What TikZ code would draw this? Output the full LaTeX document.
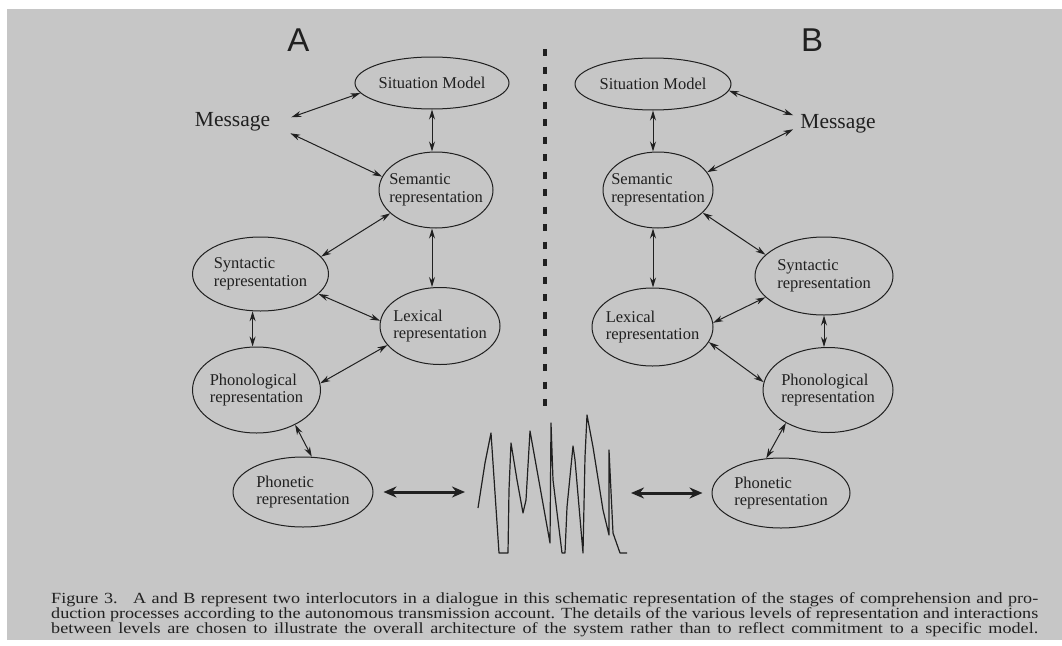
\documentclass[tikz,border=0pt]{standalone}
\usepackage{fontspec}
\setmainfont{Liberation Serif}
\newfontfamily\labelfont{Liberation Sans}
\newfontfamily\captionfont[FakeStretch=1.17]{Liberation Serif}
\usetikzlibrary{shapes.geometric,arrows.meta,positioning}
\definecolor{paper}{HTML}{C6C6C6}
\definecolor{ink}{HTML}{202020}

\begin{document}
\begin{tikzpicture}[
        x=1pt, y=-1pt,
        stage/.style={ellipse, draw=ink, line width=1pt, inner sep=-15pt, align=left, text=ink, font=\fontsize{16.5}{17.5}\selectfont},
        msg/.style={inner sep=0pt, anchor=base, text=ink, font=\fontsize{21.5}{24}\selectfont},
        who/.style={inner sep=0pt, text=ink, font=\labelfont\fontsize{33}{33}\selectfont},
        arrow/.style={draw=ink, line width=1pt, <->, >={Stealth[length=10pt,width=6pt]}},
        thickarrow/.style={draw=ink, line width=3pt, <->, >={Stealth[length=13pt,width=11pt]}}
    ]
        % Page and grey background
        \useasboundingbox (0,0) rectangle (1062,645);
        \fill[white] (0,0) rectangle (1062,645);
        \fill[paper] (7,9) rectangle (1062,640);

        % Interlocutor labels
        \node[who] (labA) at (298.5,40) {A};
        \node[who] (labB) at (812,40) {B};

        % Interlocutor A
        \node[stage, minimum width=154pt, minimum height=52pt] (sitA) at (432,83) {Situation Model};
        \node[msg] (msgA) at (232.5,126) {Message};
        \node[stage, minimum width=114pt, minimum height=76pt] (semA) at (436,190) {Semantic\\representation};
        \node[stage, minimum width=136pt, minimum height=74pt] (syntA) at (260.5,274) {Syntactic\\representation};
        \node[stage, minimum width=120pt, minimum height=77pt] (lexA) at (440,326) {Lexical\\representation};
        \node[stage, minimum width=128pt, minimum height=86pt] (phonA) at (256.5,390) {Phonological\\representation};
        \node[stage, minimum width=140pt, minimum height=70pt] (phonetA) at (303,492) {Phonetic\\representation};

        % Interlocutor B
        \node[stage, minimum width=156pt, minimum height=52pt] (sitB) at (653,84) {Situation Model};
        \node[msg] (msgB) at (838,128) {Message};
        \node[stage, minimum width=110pt, minimum height=76pt] (semB) at (658,190) {Semantic\\representation};
        \node[stage, minimum width=138pt, minimum height=78pt] (syntB) at (824,276) {Syntactic\\representation};
        \node[stage, minimum width=121pt, minimum height=78pt] (lexB) at (652.5,327) {Lexical\\representation};
        \node[stage, minimum width=130pt, minimum height=85pt] (phonB) at (828,390) {Phonological\\representation};
        \node[stage, minimum width=138pt, minimum height=70pt] (phonetB) at (781,493) {Phonetic\\representation};

        % Divider between the two speakers
        \draw[ink, line width=4pt, dash pattern=on 7pt off 10.5pt] (545,49) -- (545,412);

        % Speech signal
        \coordinate (waveL) at (465,492);
        \coordinate (waveR) at (631,493);
        \draw[ink, line width=1.2pt, line join=round]
            (478,508) -- (485,463) -- (491,433) -- (495,493) -- (499,553) -- (508,553)
            -- (509,490) -- (511,443) -- (517,480) -- (523,513) -- (526,500) -- (530,431)
            -- (540,487) -- (550,543) -- (551,423) -- (553,480) -- (562,553) -- (565,553)
            -- (567,507) -- (573,446) -- (575,460) -- (583,553) -- (585,457) -- (587,415)
            -- (593,447) -- (603,510) -- (609,535) -- (609,450) -- (613,533) -- (620,553)
            -- (627,553);

        % Connections A
        \draw[arrow] ([shift={(21pt,4pt)}]msgA.east) -- (sitA.188);
        \draw[arrow] ([shift={(20pt,-12pt)}]msgA.east) -- (semA.166);
        \draw[arrow] (sitA.south) -- (sitA.south |- semA.north);
        \draw[arrow] (syntA.16) -- (semA.207);
        \draw[arrow] (semA.south -| sitA.south) -- (sitA.south |- lexA.north);
        \draw[arrow] (syntA.341) -- (lexA.175);
        \draw[arrow] (syntA.258) -- (syntA.258 |- phonA.north);
        \draw[arrow] (lexA.200) -- (phonA.6);
        \draw[arrow] (phonA.318) -- (phonetA.76);
        \draw[thickarrow] ([xshift=10pt]phonetA.east) -- (waveL);

        % Connections B
        \draw[arrow] (sitB.355) -- ([shift={(-7pt,8pt)}]msgB.west);
        \draw[arrow] (semB.20) -- ([shift={(-7pt,-6pt)}]msgB.west);
        \draw[arrow] (sitB.south) -- (sitB.south |- semB.north);
        \draw[arrow] (semB.333) -- (syntB.160);
        \draw[arrow] (semB.south -| sitB.south) -- (sitB.south |- lexB.north);
        \draw[arrow] (lexB.4) -- (syntB.200);
        \draw[arrow] (syntB.south) -- (syntB.south |- phonB.north);
        \draw[arrow] (lexB.345) -- (phonB.173);
        \draw[arrow] (phonB.218) -- (phonetB.113);
        \draw[thickarrow] (waveR) -- ([xshift=-9pt]phonetB.west);

        % Caption
        \node[anchor=north west, inner sep=0pt, text width=987pt, align=justify, text=ink,
              font=\captionfont\fontsize{15.5}{15}\selectfont] (caption) at (51,592.5)
            {\parfillskip=0pt \tolerance=9999 Figure 3.\quad A and B represent two interlocutors in a dialogue in this schematic representation of the stages of comprehension and pro-\linebreak duction processes according to the autonomous transmission account. The details of the various levels of representation and interactions\linebreak between levels are chosen to illustrate the overall architecture of the system rather than to reflect commitment to a specific model.\par};
    \end{tikzpicture}
\end{document}
